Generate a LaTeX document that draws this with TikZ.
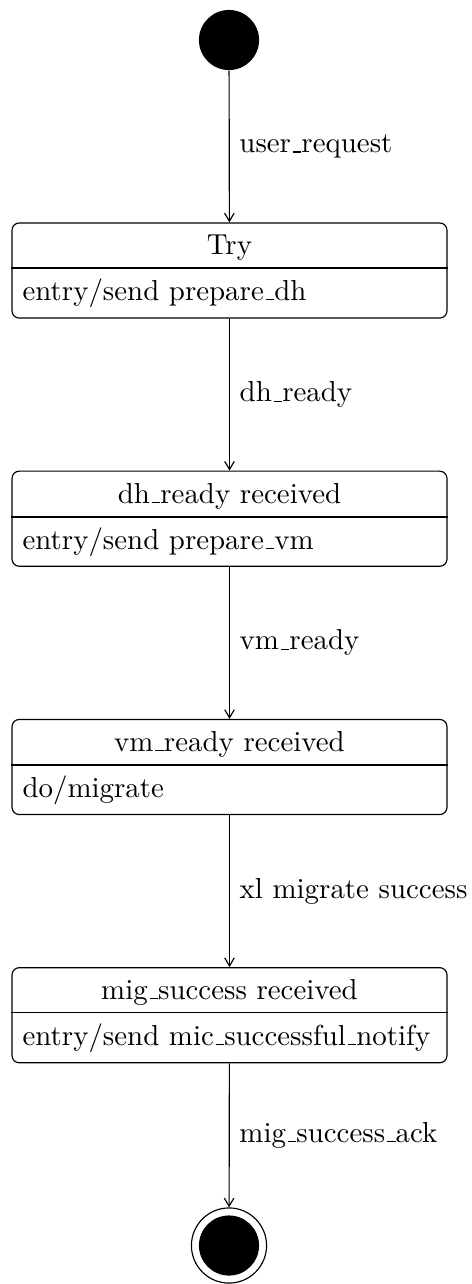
\documentclass[tikz,border=0pt]{standalone}
\usetikzlibrary{arrows.meta}

% low rule used as the underscore in identifiers
\newcommand\undersc{\leavevmode\kern.06em\vbox{\hrule width.3em}}

\tikzset{
  statebox/.style={draw, rounded corners=2.5pt, minimum width=150.5pt,
                   minimum height=32.9pt, inner sep=0pt},
  titletext/.style={anchor=base, inner sep=0pt},
  actiontext/.style={anchor=base west, inner sep=0pt},
  initstate/.style={circle, fill=black, minimum size=20.8pt, inner sep=0pt},
  finalring/.style={circle, draw, minimum size=26pt, inner sep=0pt},
  finaldot/.style={circle, fill=black, minimum size=20.8pt, inner sep=0pt},
  trans/.style={draw, -{Straight Barb[length=2.8pt,width=3.3pt]}},
  translabel/.style={midway, right}
}

\begin{document}
\begin{tikzpicture}[x=0.346pt, y=-0.346pt]
  \useasboundingbox (0,0) rectangle (472,1284);

  % initial pseudostate
  \node[initstate] (init) at (229,40) {};

  % states: outline, name, divider, internal activity
  \node[statebox] (s1) at (229.5,270.5) {};
  \node[titletext] (s1name) at (229.5,254) {Try};
  \draw (s1.west |- 0,268) -- (s1.east |- 0,268);
  \node[actiontext] (s1act) at (22,300) {entry/send prepare\undersc dh};

  \node[statebox] (s2) at (229.5,518.7) {};
  \node[titletext] (s2name) at (229.5,503.3) {dh\undersc ready received};
  \draw (s2.west |- 0,517) -- (s2.east |- 0,517);
  \node[actiontext] (s2act) at (22,549.3) {entry/send prepare\undersc vm};

  \node[statebox] (s3) at (229.5,767) {};
  \node[titletext] (s3name) at (229.5,751) {vm\undersc ready received};
  \draw (s3.west |- 0,765) -- (s3.east |- 0,765);
  \node[actiontext] (s3act) at (22,797) {do/migrate};

  \node[statebox] (s4) at (229.5,1015.2) {};
  \node[titletext] (s4name) at (229.5,999.3) {mig\undersc success received};
  \draw (s4.west |- 0,1012.7) -- (s4.east |- 0,1012.7);
  \node[actiontext] (s4act) at (22,1045.3) {entry/send mic\undersc successful\undersc notify};

  % final state
  \node[finalring] (final) at (229,1245.5) {};
  \node[finaldot] (finaldot) at (229,1245.5) {};

  % transitions
  \path[trans] (init) -- (s1) node[translabel] (t1) {user\undersc request};
  \path[trans] (s1) -- (s2) node[translabel] (t2) {dh\undersc ready};
  \path[trans] (s2) -- (s3) node[translabel] (t3) {vm\undersc ready};
  \path[trans] (s3) -- (s4) node[translabel] (t4) {xl migrate success};
  \path[trans] (s4) -- (final) node[translabel] (t5) {mig\undersc success\undersc ack};
\end{tikzpicture}
\end{document}
